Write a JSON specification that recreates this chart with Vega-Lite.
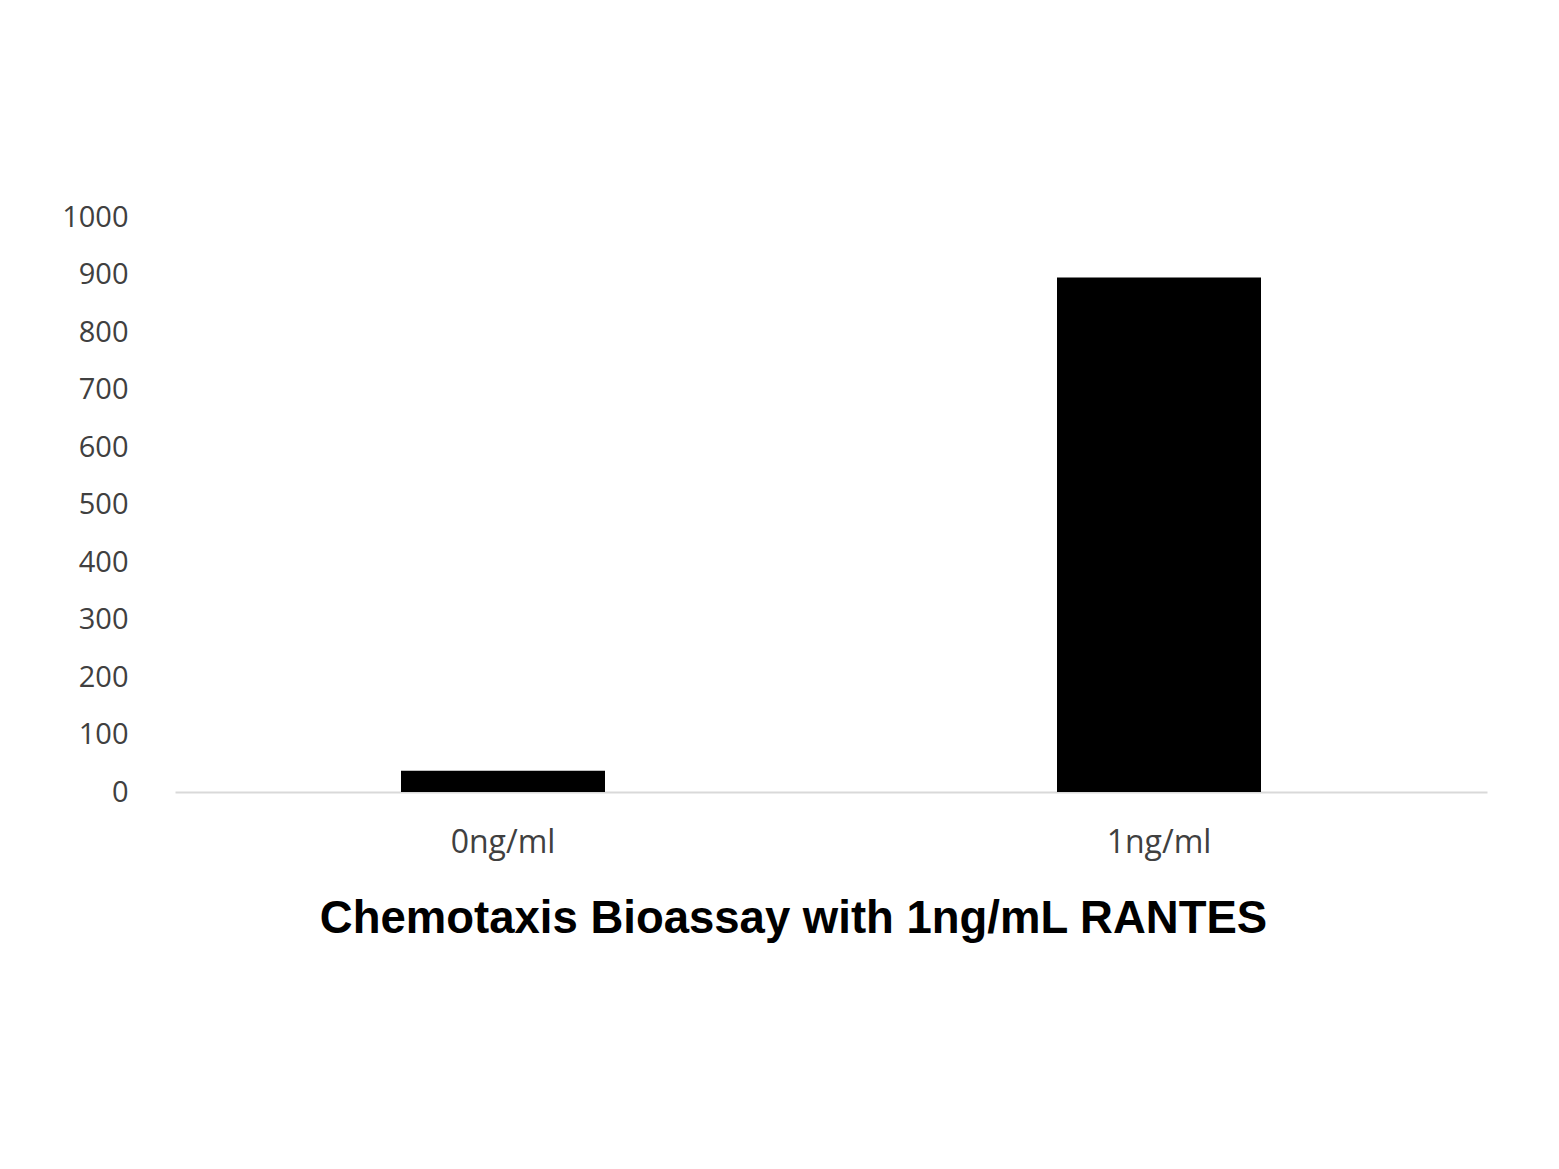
{
  "$schema": "https://vega.github.io/schema/vega-lite/v6.json",
  "width": 1312,
  "height": 575,
  "autosize": {"type": "none"},
  "padding": {"left": 175, "top": 217, "right": 72, "bottom": 377},
  "background": "white",
  "data": {"values": [
    {"dose": "0ng/ml", "value": 37},
    {"dose": "1ng/ml", "value": 895}
  ]},
  "mark": {"type": "bar", "color": "black", "size": 204},
  "encoding": {
    "x": {
      "field": "dose", "type": "nominal", "sort": null,
      "scale": {"paddingInner": 0, "paddingOuter": 0},
      "axis": {
        "title": "Chemotaxis Bioassay with 1ng/mL RANTES",
        "titleFont": "Liberation Sans", "titleFontSize": 45.5, "titleFontWeight": "bold",
        "titleColor": "black", "titleX": 618, "titleY": 140, "titleBaseline": "alphabetic", "titleAnchor": null, "titleAlign": "center",
        "labelAngle": 0, "labelFont": "Open Sans", "labelFontSize": 32, "labelColor": "#404040",
        "labelPadding": 35, "ticks": false,
        "domainColor": "#d9d9d9", "domainWidth": 2, "grid": false
      }
    },
    "y": {
      "field": "value", "type": "quantitative",
      "scale": {"domain": [0, 1000], "nice": false},
      "axis": {
        "title": null, "values": [0,100,200,300,400,500,600,700,800,900,1000], "format": "d",
        "labelFont": "Open Sans", "labelFontSize": 29, "labelColor": "#404040",
        "labelPadding": 47, "ticks": false, "domain": false, "grid": false
      }
    }
  },
  "config": {"view": {"stroke": null}}
}
